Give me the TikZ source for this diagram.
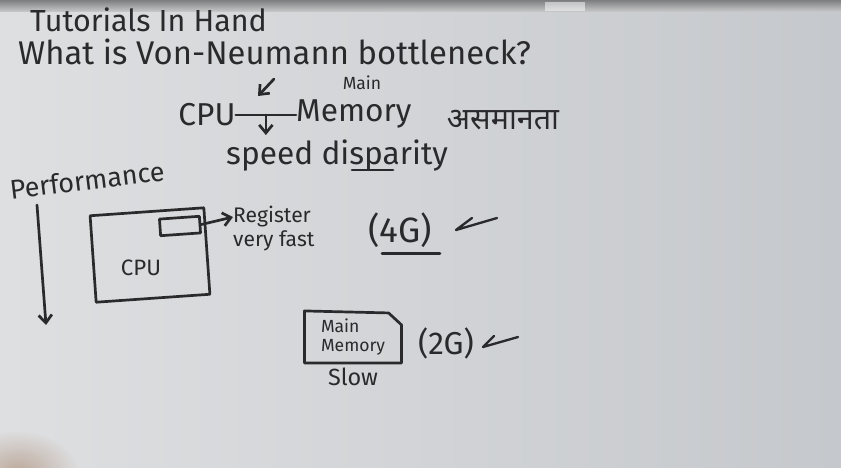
\documentclass[tikz,border=0pt]{standalone}
\usepackage{fontspec}
\setmainfont{Fira Sans}
\newfontfamily\hindifont[Script=Devanagari]{Noto Sans}
\usetikzlibrary{positioning,arrows.meta,calc}
\definecolor{marker}{HTML}{2A2A2C}
\definecolor{boardlight}{HTML}{DEDFE1}
\definecolor{boarddark}{HTML}{C5C8CC}
\definecolor{framegray}{HTML}{9C9EA1}
\definecolor{handtone}{HTML}{B49C8A}
\tikzset{
  ink/.style={text=marker,inner sep=0pt},
  inkline/.style={draw=marker,line width=2.3pt,line cap=round,line join=round},
  inkarr/.style={inkline,-{Straight Barb[length=2.4mm,width=4mm]}},
  inkbox/.style={inkline,rectangle,inner sep=0pt},
  % Local styles for the board lettering
  bigtext/.style={ink,font=\fontsize{28}{30}\selectfont},
  midtext/.style={ink,font=\fontsize{27}{29}\selectfont},
  smalltext/.style={ink,font=\fontsize{18}{19}\selectfont},
  tinytext/.style={ink,font=\fontsize{15}{16}\selectfont,align=left},
  tickmark/.style={inkline,line width=2pt}
}
\begin{document}
\begin{tikzpicture}[x=0.03cm, y=-0.03cm, node distance=1pt and 2pt]
  \useasboundingbox (0,0) rectangle (841,467);
  \shade[left color=boardlight, right color=boarddark] (0,0) rectangle (841,467);
  \shade[top color=framegray!80!black, bottom color=framegray!60] (0,0) rectangle (841,11);
  \fill[white, opacity=.5] (545,2) rectangle (585,11);
  \shade[inner color=handtone, outer color=boardlight, opacity=.8] (18,472) ellipse [x radius=62, y radius=42];

  \node[ink, anchor=west, font=\fontsize{26}{28}\selectfont] (tut) at (30,20) {Tutorials In Hand};
  \node[bigtext, anchor=west] (quest) at (18,52) {What is Von-Neumann bottleneck?};
  \coordinate (qfrom) at (274,79);
  \coordinate (qto) at (258,96);
  \draw[inkarr] (qfrom) -- (qto);

  \node[midtext] (cpuA) at (207,115) {CPU};
  \node[midtext, anchor=west] (memA) at (296,114) {Memory};
  \node[ink, font=\fontsize{15}{16}\selectfont] (mainA) at (362,83) {Main};
  \draw[inkline] (cpuA.east) -- (memA.west |- cpuA.east) coordinate[pos=.5] (link);
  \node[midtext, anchor=west] (speed) at (226,156) {speed disparity};
  \coordinate (linkend) at ($(link)+(0,20)$);
  \draw[inkarr] (link) -- (linkend);
  \coordinate (ulstart) at (352,170);
  \coordinate (ulend) at (393,170);
  \draw[inkline] (ulstart) -- (ulend);
  \node[ink, font=\hindifont\fontsize{26}{28}\selectfont] (hindi) at (503,120) {असमानता};

  \node[ink, font=\fontsize{23}{25}\selectfont, rotate=7] (perf) at (87,180) {Performance};
  \coordinate (perfstart) at (37,205);
  \coordinate (perfend) at (46,325);
  \draw[inkarr] (perfstart) -- (perfend);

  \node[inkbox, minimum width=3.42cm, minimum height=2.6cm, rotate=4] (cpubox) at (150,255) {};
  \node[ink, font=\fontsize{19}{21}\selectfont] (cpuB) at (141,268) {CPU};
  \node[inkbox, minimum width=1.2cm, minimum height=0.5cm, rotate=4] (reg) at (180,226) {};
  \node[smalltext, anchor=west] (regtext) at (233,217) {Register};
  \node[smalltext, below=2pt of regtext.south west, anchor=north west] (fast) {very fast};
  \draw[inkarr] (reg.east) -- (regtext.west);
  \node[ink, font=\fontsize{30}{32}\selectfont] (fourG) at (400,230) {(4G)};
  \draw[inkline] ($(fourG.south)+(-18,6)$) -- ($(fourG.south)+(40,6)$);
  \draw[tickmark] (472,218) -- (456,230) -- (497,218);

  \node[tinytext, minimum width=2.9cm, minimum height=1.55cm] (mm) at (353,337) {Main\\Memory};
  \draw[inkline] (mm.north west) -- ($(mm.north east)+(-13,2)$) -- ($(mm.north east)+(0,14)$)
    -- (mm.south east) -- (mm.south west) -- cycle;
  \node[ink, font=\fontsize{20}{22}\selectfont, below=4pt of mm] (slow) {Slow};
  \node[ink, font=\fontsize{27}{29}\selectfont] (twoG) at (446,343) {(2G)};
  \draw[tickmark] (494,336) -- (483,347) -- (518,337);
\end{tikzpicture}
\end{document}
